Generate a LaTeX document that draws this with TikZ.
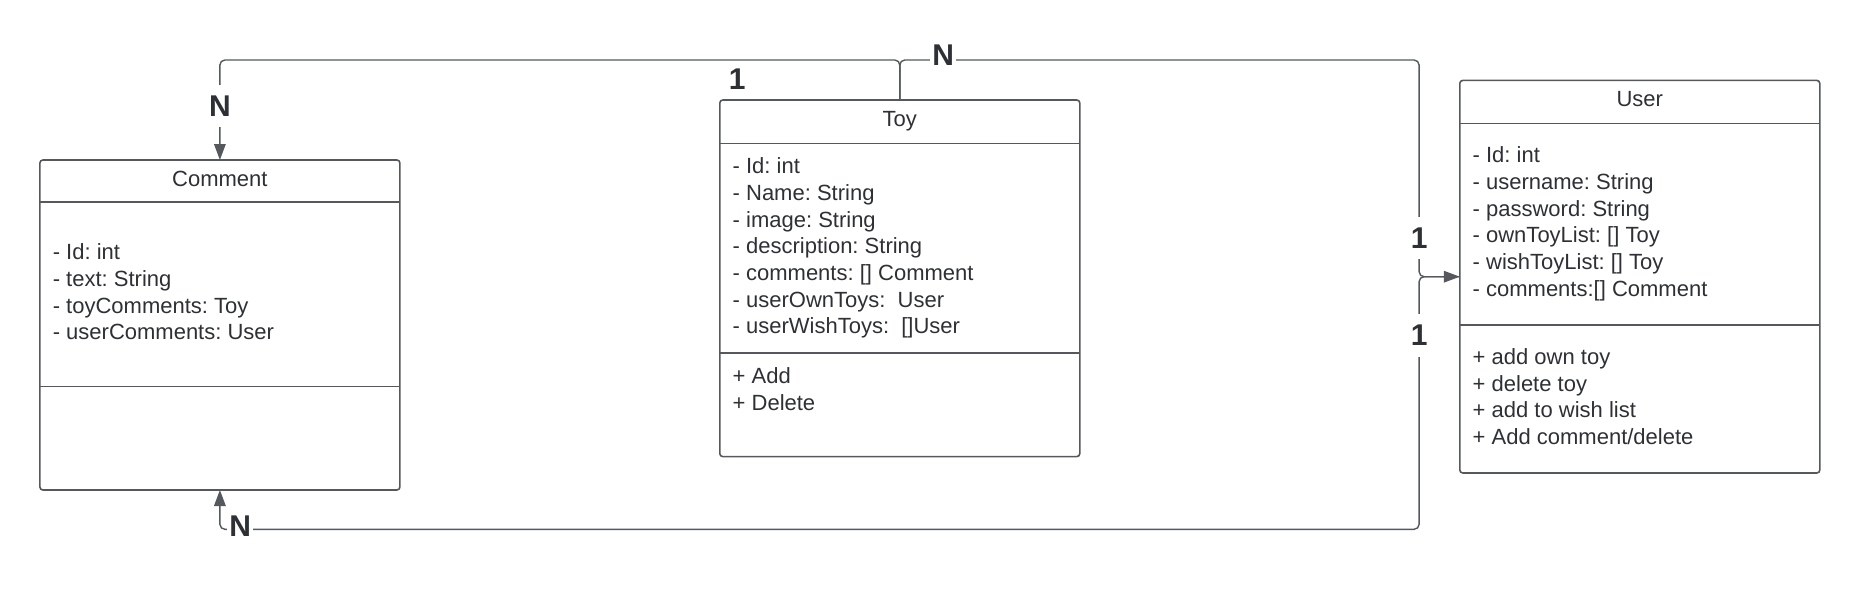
\documentclass[tikz,border=0pt]{standalone}
\usepackage{fontspec}
\setmainfont{Liberation Sans}
\frenchspacing
\usetikzlibrary{positioning,arrows.meta}
\definecolor{inkgray}{RGB}{45,48,53}
\definecolor{linegray}{RGB}{85,89,94}

\begin{document}
\begin{tikzpicture}[x=0.5pt,y=-0.5pt,
  classbox/.style={draw=linegray,line width=0.8pt,rounded corners=1.5pt,
    minimum width=180pt,inner sep=0pt,outer sep=0pt},
  clsname/.style={font=\fontsize{11}{13.33}\selectfont,text=inkgray,anchor=base,inner sep=0pt},
  attr/.style={font=\fontsize{11}{13.33}\selectfont,text=inkgray,anchor=north west,
    align=left,inner sep=0pt},
  mult/.style={font=\fontsize{15}{17}\selectfont\bfseries,text=inkgray,fill=white,
    inner xsep=1pt,inner ysep=5.5pt},
  conn/.style={draw=linegray,line width=0.7pt,rounded corners=2.5pt,
    -{Triangle[length=8pt,width=5.8pt]}}]

\useasboundingbox (0,0) rectangle (1860,590);

% classes
\node[classbox,minimum height=165pt] (cmt) at (219.9,325) {};
\node[classbox,minimum height=178.3pt] (toy) at (899.8,278.3) {};
\node[classbox,minimum height=196.3pt] (usr) at (1639.8,276.7) {};

\draw[linegray,line width=0.8pt] ([shift={(0,42)}]cmt.north west) -- ([shift={(0,42)}]cmt.north east);
\draw[linegray,line width=0.8pt] ([shift={(0,226.3)}]cmt.north west) -- ([shift={(0,226.3)}]cmt.north east);
\draw[linegray,line width=0.8pt] ([shift={(0,43.3)}]toy.north west) -- ([shift={(0,43.3)}]toy.north east);
\draw[linegray,line width=0.8pt] ([shift={(0,253)}]toy.north west) -- ([shift={(0,253)}]toy.north east);
\draw[linegray,line width=0.8pt] ([shift={(0,43)}]usr.north west) -- ([shift={(0,43)}]usr.north east);
\draw[linegray,line width=0.8pt] ([shift={(0,244.7)}]usr.north west) -- ([shift={(0,244.7)}]usr.north east);

% names
\node[clsname] (cmtname) at ([shift={(0,26.7)}]cmt.north) {Comment};
\node[clsname] (toyname) at ([shift={(0,26.7)}]toy.north) {Toy};
\node[clsname] (usrname) at ([shift={(0,26.4)}]usr.north) {User};

% fields and methods
\node[attr] (cmtattr) at ([shift={(12.5,83.5)}]cmt.north west)
  {- Id: int\\- text: String\\- toyComments: Toy\\- userComments: User};
\node[attr] (toyattr) at ([shift={(12.5,57.5)}]toy.north west)
  {- Id: int\\- Name: String\\- image: String\\- description: String\\
   - comments: [] Comment\\- userOwnToys:\ \ User\\- userWishToys:\ \ []User};
\node[attr] (toyop) at ([shift={(12.5,267.5)}]toy.north west)
  {+ Add\\+ Delete};
\node[attr] (usrattr) at ([shift={(12.5,66.2)}]usr.north west)
  {- Id: int\\- username: String\\- password: String\\- ownToyList: [] Toy\\
   - wishToyList: [] Toy\\- comments:[] Comment};
\node[attr] (usrop) at ([shift={(12.5,267.9)}]usr.north west)
  {+ add own toy\\+ delete toy\\+ add to wish list\\+ Add comment/delete};

% relations
\draw[conn] (toy.north) -- ++(0,-40) -| (cmt.north);
\draw[conn] (toy.north) -- ++(0,-40) -| ([xshift=-20.35pt]usr.west) -- (usr.west);
\draw[conn] (usr.west) -- ++(-40.7,0) -- ++(0,252.6) -| (cmt.south);

% multiplicities
\node[mult] (n1) at (219.9,106) {N};
\node[mult,fill=none] (o1) at (737.2,79.5) {1};
\node[mult] (n2) at (943.2,55) {N};
\node[mult] (o2) at (1419.1,238) {1};
\node[mult] (o3) at (1419.1,335.3) {1};
\node[mult] (n3) at (240.2,525.7) {N};
\end{tikzpicture}
\end{document}
